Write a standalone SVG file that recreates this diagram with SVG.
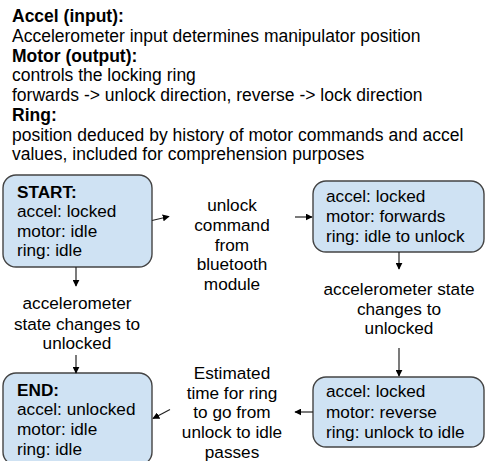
<svg xmlns="http://www.w3.org/2000/svg" width="485" height="461" viewBox="0 0 485 461">
<defs>
<style>
text{font-family:"Liberation Sans",Arial,sans-serif;font-size:17.2px;fill:#000}
#legend text{font-size:17.5px}
.b{font-weight:bold}
.m{text-anchor:middle}
.box{fill:#cfe2f3;stroke:#444;stroke-width:1.4}
.c{stroke:#222;stroke-width:1.2;fill:none;marker-end:url(#ah)}
</style>
<marker id="ah" viewBox="0 0 10 10" refX="9" refY="5" markerWidth="7" markerHeight="7" markerUnits="userSpaceOnUse" orient="auto">
<path d="M0,0 L10,5 L0,10 z" fill="#000"/>
</marker>
</defs>
<rect width="485" height="461" fill="#fff"/>
<g id="legend">
<text x="12" y="22" class="b">Accel (input):</text>
<text x="12" y="42">Accelerometer input determines manipulator position</text>
<text x="12" y="62" class="b">Motor (output):</text>
<text x="12" y="81">controls the locking ring</text>
<text x="12" y="101">forwards -&gt; unlock direction, reverse -&gt; lock direction</text>
<text x="12" y="121" class="b">Ring:</text>
<text x="12" y="141">position deduced by history of motor commands and accel</text>
<text x="12" y="160">values, included for comprehension purposes</text>
</g>
<g id="start">
<rect class="box" x="3" y="175" width="149" height="92" rx="13"/>
<text x="17" y="198" class="b">START:</text>
<text x="17" y="217">accel: locked</text>
<text x="17" y="237">motor: idle</text>
<text x="17" y="256">ring: idle</text>
</g>
<g id="unlocking">
<rect class="box" x="313" y="181" width="171" height="71" rx="13"/>
<text x="326" y="202">accel: locked</text>
<text x="326" y="222">motor: forwards</text>
<text x="326" y="242">ring: idle to unlock</text>
</g>
<g id="locking">
<rect class="box" x="313" y="377" width="171" height="70" rx="13"/>
<text x="326" y="397">accel: locked</text>
<text x="326" y="418">motor: reverse</text>
<text x="326" y="438">ring: unlock to idle</text>
</g>
<g id="end">
<rect class="box" x="3" y="373" width="149" height="92" rx="13"/>
<text x="17" y="396" class="b">END:</text>
<text x="17" y="415">accel: unlocked</text>
<text x="17" y="435">motor: idle</text>
<text x="17" y="455">ring: idle</text>
</g>
<g id="connectors">
<path class="c" d="M152,220.5 L169,216.5"/>
<path class="c" d="M295,217 L312,217"/>
<path class="c" d="M399,252 L399,269"/>
<path class="c" d="M399,348 L399,376"/>
<path class="c" d="M313,412 L295,412"/>
<path class="c" d="M170,409.5 L153,418.5"/>
<path class="c" d="M76,267 L76,286"/>
<path class="c" d="M76,355 L76,373"/>
</g>
<g id="labels">
<text class="m" x="232" y="211">unlock</text>
<text class="m" x="232" y="231">command</text>
<text class="m" x="232" y="251">from</text>
<text class="m" x="232" y="270">bluetooth</text>
<text class="m" x="232" y="290">module</text>
<text class="m" x="399" y="295">accelerometer state</text>
<text class="m" x="399" y="315">changes to</text>
<text class="m" x="399" y="334">unlocked</text>
<text class="m" x="77" y="309">accelerometer</text>
<text class="m" x="77" y="330">state changes to</text>
<text class="m" x="77" y="349">unlocked</text>
<text class="m" x="232" y="379">Estimated</text>
<text class="m" x="232" y="399">time for ring</text>
<text class="m" x="232" y="418">to go from</text>
<text class="m" x="232" y="438">unlock to idle</text>
<text class="m" x="232" y="458">passes</text>
</g>
</svg>
